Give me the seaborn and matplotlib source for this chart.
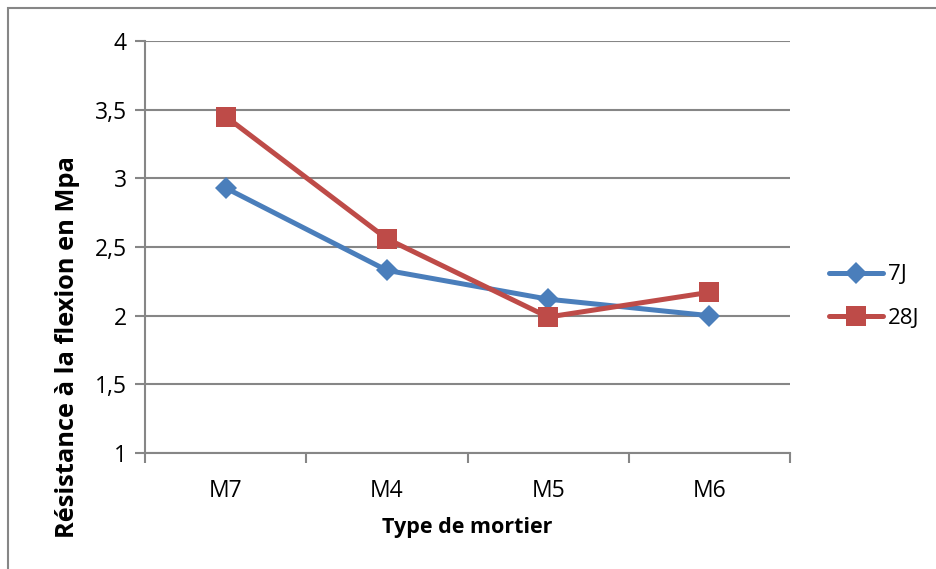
import matplotlib
matplotlib.use("Agg")
import matplotlib.pyplot as plt
from matplotlib.ticker import FuncFormatter, FixedLocator
from matplotlib.patches import Rectangle
import seaborn as sns
import pandas as pd

# Flexural strength (MPa) per mortar type, at 7 and 28 days
mortiers = ["M7", "M4", "M5", "M6"]
resistance_7j = [2.93, 2.33, 2.12, 2.00]
resistance_28j = [3.45, 2.56, 1.99, 2.17]
series = ["7J", "28J"]
y_ticks = [1, 1.5, 2, 2.5, 3, 3.5, 4]

df = pd.DataFrame({
    "Type de mortier": mortiers * 2,
    "Résistance": resistance_7j + resistance_28j,
    "Série": [series[0]] * len(mortiers) + [series[1]] * len(mortiers),
})

sns.set_style("white")
plt.rcParams["font.family"] = ["Open Sans", "DejaVu Sans"]
plt.rcParams["text.color"] = "black"
plt.rcParams["axes.labelcolor"] = "black"
plt.rcParams["xtick.color"] = "black"
plt.rcParams["ytick.color"] = "black"

fig = plt.figure(figsize=(9.36, 5.69), dpi=100)
ax = fig.add_axes([145 / 936, 1 - 453 / 569, 645 / 936, 412 / 569])

palette = {"7J": "#4A7EBB", "28J": "#BE4B48"}
markers = {"7J": "D", "28J": "s"}

sns.lineplot(data=df, x="Type de mortier", y="Résistance", hue="Série",
             style="Série", markers=markers, dashes=False, palette=palette,
             linewidth=3.6, markersize=11, markeredgewidth=0, ax=ax,
             sort=False)

# Squares drawn slightly larger than the diamonds
for line in ax.lines:
    if line.get_marker() == "s":
        line.set_markersize(14)
    elif line.get_marker() == "D":
        line.set_markersize(11)

ax.set_ylim(1, 4)
ax.set_xlim(-0.5, 3.5)
ax.yaxis.set_major_locator(FixedLocator(y_ticks))
ax.yaxis.set_major_formatter(FuncFormatter(lambda v, _: f"{v:g}".replace(".", ",")))

# Category ticks sit on the boundaries between categories
ax.set_xticks(range(len(mortiers)))
ax.set_xticklabels(mortiers)
ax.set_xticks([i - 0.5 for i in range(len(mortiers) + 1)], minor=True)
ax.tick_params(axis="x", which="major", length=0, pad=19, labelsize=16.5,
               labelcolor="black")
ax.tick_params(axis="x", which="minor", length=7, width=1.5, color="#868686",
               direction="out", bottom=True)
ax.tick_params(axis="y", which="major", length=7, width=1.5, color="#868686",
               direction="out", left=True, pad=6, labelsize=16.5,
               labelcolor="black")

ax.grid(axis="y", color="#868686", linewidth=1.5)
ax.grid(axis="x", visible=False)
ax.set_axisbelow(True)
for side in ["top", "right"]:
    ax.spines[side].set_visible(False)
for side in ["left", "bottom"]:
    ax.spines[side].set_color("#868686")
    ax.spines[side].set_linewidth(1.5)

ax.set_xlabel("Type de mortier", fontsize=15.5, fontweight="bold", labelpad=10,
              color="black")
ax.set_ylabel("Résistance à la flexion en Mpa", fontsize=18.3,
              fontweight="bold", color="black")
ax.yaxis.set_label_coords(-0.101, 0.257)

leg = ax.legend(loc="center left", bbox_to_anchor=(1.03, 0.38), frameon=False,
                fontsize=16, handlelength=2.4, handletextpad=0.25,
                labelspacing=1.0, title=None)
for txt in leg.get_texts():
    txt.set_color("black")

# Outer chart frame
fig.patches.append(Rectangle((8 / 936, -0.1), 1.2, 1 - 8 / 569 + 0.1,
                             transform=fig.transFigure, fill=False,
                             edgecolor="#868686", linewidth=1.5))

fig.savefig("out.png", dpi=100)
